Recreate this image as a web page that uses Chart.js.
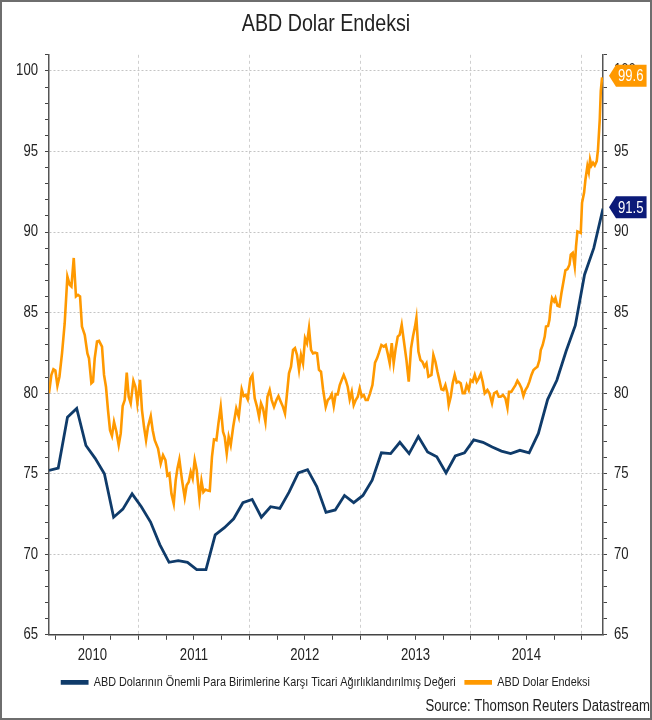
<!DOCTYPE html>
<html><head><meta charset="utf-8">
<script src="https://cdn.jsdelivr.net/npm/chart.js@4.4.1/dist/chart.umd.min.js"></script>
<style>
html,body{margin:0;padding:0;background:#fff;}
#frame{width:652px;height:720px;box-sizing:border-box;border:2px solid #6e6e6e;position:relative;background:#fff;}
canvas{display:block;}
</style></head><body>
<div id="frame"><canvas id="c" width="648" height="716"></canvas></div>
<script>
const FONT = "'Liberation Sans','Arial',sans-serif";
const NARROW = 0.82;   // horizontal squeeze to mimic Arial Narrow
const titleText = 'ABD Dolar Endeksi';
const sourceText = 'Source: Thomson Reuters Datastream';
const seriesNames = ['ABD Dolarının Önemli Para Birimlerine Karşı Ticari Ağırlıklandırılmış Değeri', 'ABD Dolar Endeksi'];
const yearLabels = ['2010', '2011', '2012', '2013', '2014'];
const yearLabelMonths = [7, 18, 30, 42, 54];   // months since Jan 2010 where year labels sit

// Trade-weighted USD (monthly)
const blueDates = ['2010-03','2010-04','2010-05','2010-06','2010-07','2010-08','2010-09','2010-10','2010-11','2010-12',
  '2011-01','2011-02','2011-03','2011-04','2011-05','2011-06','2011-07','2011-08','2011-09','2011-10','2011-11','2011-12',
  '2012-01','2012-02','2012-03','2012-04','2012-05','2012-06','2012-07','2012-08','2012-09','2012-10','2012-11','2012-12',
  '2013-01','2013-02','2013-03','2013-04','2013-05','2013-06','2013-07','2013-08','2013-09','2013-10','2013-11','2013-12',
  '2014-01','2014-02','2014-03','2014-04','2014-05','2014-06','2014-07','2014-08','2014-09','2014-10','2014-11','2014-12',
  '2015-01','2015-02','2015-03'];
const blueValues = [75.2, 75.35, 78.5, 79.05, 76.75, 75.95, 75.0, 72.3, 72.8, 73.75,
  72.95, 72.0, 70.6, 69.5, 69.6, 69.5, 69.05, 69.05, 71.2, 71.65, 72.2, 73.2,
  73.4, 72.3, 72.95, 72.85, 73.85, 75.05, 75.25, 74.2, 72.6, 72.75, 73.65, 73.2,
  73.65, 74.6, 76.3, 76.25, 76.95, 76.25, 77.3, 76.35, 76.05, 75.05, 76.1, 76.3,
  77.1, 76.95, 76.65, 76.4, 76.25, 76.45, 76.3, 77.5, 79.6, 80.8, 82.6, 84.2,
  87.35, 89.0, 91.45];

// US Dollar Index (weekly) : months since Jan 2010, value
const orangeMonths = [2.30,2.56,2.78,2.99,3.21,3.43,3.71,4.00,4.29,4.54,4.73,4.98,5.22,5.44,5.66,5.87,6.17,6.46,6.63,6.89,
  7.07,7.25,7.50,7.72,8.04,8.26,8.47,8.69,8.91,9.12,9.34,9.60,9.85,10.07,10.28,10.50,10.72,10.93,11.15,11.44,
  11.66,11.87,12.16,12.37,12.59,12.81,13.02,13.32,13.53,13.75,14.11,14.40,14.65,14.91,15.12,15.34,15.56,15.81,16.02,16.21,
  16.42,16.71,17.00,17.21,17.43,17.65,17.86,18.08,18.30,18.59,18.81,19.02,19.24,19.49,19.71,19.95,20.17,20.43,20.65,20.90,
  21.15,21.33,21.55,21.76,21.98,22.25,22.58,22.85,23.17,23.39,23.60,23.82,24.11,24.33,24.58,24.83,25.05,25.26,25.48,25.74,
  25.96,26.20,26.42,26.67,26.93,27.15,27.40,27.64,27.86,28.08,28.29,28.51,28.73,28.94,29.16,29.38,29.59,29.81,30.03,30.24,
  30.46,30.68,30.89,31.11,31.33,31.54,31.76,31.98,32.27,32.49,32.70,32.92,33.14,33.35,33.57,33.79,34.00,34.22,34.44,34.65,
  34.87,35.09,35.30,35.52,35.74,35.95,36.17,36.39,36.60,36.82,37.04,37.33,37.61,37.83,38.04,38.30,38.55,38.77,38.98,39.20,
  39.42,39.63,39.85,40.07,40.28,40.50,40.72,41.01,41.26,41.51,41.72,41.94,42.09,42.31,42.53,42.74,42.96,43.18,43.39,43.72,
  43.93,44.15,44.37,44.58,44.80,45.02,45.23,45.45,45.59,45.81,46.02,46.24,46.46,46.67,46.89,47.11,47.32,47.54,47.76,47.97,
  48.19,48.41,48.62,48.84,49.06,49.27,49.49,49.78,50.00,50.28,50.50,50.79,51.01,51.22,51.47,51.73,51.95,52.12,52.38,52.60,
  52.82,53.03,53.25,53.47,53.68,53.90,54.12,54.33,54.55,54.77,54.98,55.20,55.42,55.56,55.77,55.99,56.13,56.35,56.50,56.64,
  56.78,57.00,57.15,57.37,57.58,57.80,58.02,58.23,58.45,58.67,58.81,59.02,59.24,59.38,59.53,59.75,59.89,60.03,60.25,60.40,
  60.61,60.76,60.90,61.05,61.22,61.41,61.62,61.76,61.95,62.06,62.20];
const orangeValues = [80.0,81.13,81.48,81.40,80.46,81.02,82.47,84.34,87.24,86.73,86.62,88.39,86.0,86.1,86.0,84.13,83.62,82.47,82.16,80.61,
  80.71,82.16,83.2,83.24,82.89,81.13,80.4,78.95,77.7,77.35,78.22,77.6,76.77,77.5,79.2,79.57,81.27,79.78,79.37,80.77,
  80.4,79.37,80.82,78.95,77.91,77.08,77.91,78.57,77.7,77.08,76.56,75.63,76.15,75.84,74.9,75.01,73.76,73.14,74.59,75.32,
  75.88,74.59,73.52,74.28,74.49,75.11,74.7,75.84,75.22,73.45,74.55,73.86,74.01,73.95,73.93,76.04,77.13,77.08,78.12,79.15,
  77.6,77.29,76.25,77.29,76.77,77.91,79.05,78.53,80.24,79.82,79.88,79.61,80.92,81.13,79.68,79.15,78.53,79.37,79.05,78.22,
  79.78,80.19,79.57,79.15,79.57,79.82,79.47,79.15,78.74,79.99,81.23,81.64,82.68,82.79,82.37,81.44,82.37,81.85,83.41,83.1,
  84.03,82.68,82.47,82.51,82.47,81.44,81.33,80.24,79.15,79.57,79.68,79.94,79.2,79.94,79.93,80.5,80.81,81.13,80.81,80.4,
  79.61,80.09,79.26,79.57,79.78,80.3,79.78,79.88,79.57,79.57,79.94,80.5,81.89,82.16,82.51,82.99,82.89,82.99,82.47,81.85,
  83.1,81.85,82.79,83.51,83.62,84.24,83.3,82.06,80.71,82.79,83.51,84.13,84.66,82.58,82.06,81.95,81.64,81.85,81.02,81.13,
  82.37,81.95,81.33,80.81,80.24,80.19,80.5,79.99,79.26,79.78,80.61,81.13,80.65,80.71,80.61,79.99,79.99,80.5,80.19,80.81,
  80.71,81.13,80.71,80.92,81.19,80.71,79.99,80.19,79.99,79.37,79.99,80.09,79.78,79.78,79.88,79.68,79.09,80.09,80.09,80.3,
  80.5,80.77,80.57,80.3,79.82,80.19,80.4,80.71,81.13,81.44,81.54,81.64,82.06,82.68,82.99,83.51,84.13,84.17,84.55,85.38,
  85.9,85.69,85.9,85.42,85.38,86.21,86.93,87.62,87.7,87.97,88.59,88.7,87.87,89.11,90.04,89.98,89.94,91.81,92.43,93.26,
  94.09,93.72,94.5,94.13,94.3,94.13,94.4,95.13,96.99,98.76,99.6];

const blueColor = '#0f3b6a', orangeColor = '#ff9900';
const blueTagColor = '#0b1a78', orangeTagColor = '#ff9900';

const monthOf = s => (parseInt(s.slice(0, 4), 10) - 2010) * 12 + parseInt(s.slice(5, 7), 10) - 1 + 0.3;
const blueData = blueDates.map((d, i) => ({x: monthOf(d), y: blueValues[i]}));
const orangeData = orangeMonths.map((m, i) => ({x: m, y: orangeValues[i]}));

const xTicks = [];
for (let m = 3; m <= 60; m += 3) xTicks.push(m);
xTicks.push(yearLabelMonths[0]);
const yTicks = [];
for (let v = 65; v <= 101; v++) yTicks.push(v);

// Narrow text rendering (no condensed font installed): squeeze glyphs horizontally
const canvas = document.getElementById('c');
const ctx = canvas.getContext('2d');
const origFill = ctx.fillText.bind(ctx);
const origMeasure = ctx.measureText.bind(ctx);
ctx.fillText = function (t, x, y, maxW) {
  ctx.save();
  ctx.translate(x, y);
  ctx.scale(NARROW, 1);
  if (maxW !== undefined && maxW !== null) origFill(t, 0, 0, maxW / NARROW); else origFill(t, 0, 0);
  ctx.restore();
};
ctx.measureText = function (t) {
  const m = origMeasure(t);
  return {
    width: m.width * NARROW,
    actualBoundingBoxAscent: m.actualBoundingBoxAscent,
    actualBoundingBoxDescent: m.actualBoundingBoxDescent,
    actualBoundingBoxLeft: m.actualBoundingBoxLeft * NARROW,
    actualBoundingBoxRight: m.actualBoundingBoxRight * NARROW
  };
};

const tagPlugin = {
  id: 'tags',
  afterDraw(chart) {
    const {ctx, chartArea} = chart;
    const ys = chart.scales.y;
    const tags = [
      {v: orangeValues[orangeValues.length - 1], c: orangeTagColor},
      {v: blueValues[blueValues.length - 1], c: blueTagColor}
    ];
    ctx.save();
    ctx.font = '16px ' + FONT;
    tags.forEach(t => {
      const label = t.v.toFixed(1);
      const w = ctx.measureText(label).width;
      const y = ys.getPixelForValue(t.v) - 1.5;
      const x0 = chartArea.right + 6, x1 = x0 + 9 + w + 3, h = 11;
      ctx.beginPath();
      ctx.moveTo(x0, y);
      ctx.lineTo(x0 + 7, y - h);
      ctx.lineTo(x1, y - h);
      ctx.lineTo(x1, y + h);
      ctx.lineTo(x0 + 7, y + h);
      ctx.closePath();
      ctx.fillStyle = t.c;
      ctx.fill();
      ctx.fillStyle = '#ffffff';
      ctx.textAlign = 'left';
      ctx.textBaseline = 'middle';
      ctx.fillText(label, x0 + 9, y + 1);
    });
    ctx.restore();
  }
};

const yAxis = (pos) => ({
  type: 'linear', position: pos, min: 65, max: 101,
  afterBuildTicks: s => { s.ticks = yTicks.map(v => ({value: v})); },
  afterFit: s => { s.width = 47; },
  ticks: {autoSkip: false, padding: 7, color: '#222', font: {family: FONT, size: 16},
    callback: v => (v % 5 === 0 ? String(v) : '')},
  grid: {
    drawOnChartArea: pos === 'left',
    color: c => (c.tick && c.tick.value % 5 === 0 && c.tick.value > 65) ? '#c4c4c4' : 'rgba(0,0,0,0)',
    lineWidth: 1, tickLength: 4, tickColor: '#444', tickWidth: 1, tickBorderDash: []
  },
  border: {color: '#555', width: 1.5, dash: [2, 2]}
});

new Chart(ctx, {
  type: 'line',
  data: {
    datasets: [
      {label: seriesNames[0], data: blueData, borderColor: blueColor, backgroundColor: blueColor,
       borderWidth: 2.8, pointRadius: 0, tension: 0},
      {label: seriesNames[1], data: orangeData, borderColor: orangeColor, backgroundColor: orangeColor,
       borderWidth: 2.6, pointRadius: 0, tension: 0}
    ]
  },
  options: {
    responsive: false, animation: false, devicePixelRatio: 1,
    layout: {padding: {left: 0, right: 0, top: 0, bottom: 0}},
    scales: {
      x: {
        type: 'linear', position: 'bottom', min: 2.3, max: 62.3,
        afterBuildTicks: s => { s.ticks = xTicks.map(v => ({value: v})); },
        afterFit: s => { s.height = 31; },
        ticks: {autoSkip: false, maxRotation: 0, padding: 6, color: '#222', font: {family: FONT, size: 16},
          callback: v => { const i = yearLabelMonths.indexOf(v); return i >= 0 ? yearLabels[i] : ''; }},
        grid: {
          color: c => (c.tick && c.tick.value % 12 === 0) ? '#cfcfcf' : 'rgba(0,0,0,0)',
          lineWidth: 1, tickLength: 5, tickWidth: 1, tickBorderDash: [],
          tickColor: c => (c.tick && c.tick.value === yearLabelMonths[0]) ? 'rgba(0,0,0,0)' : '#444'
        },
        border: {color: '#444', width: 1.5, dash: [3, 3]}
      },
      y: yAxis('left'),
      y2: yAxis('right')
    },
    plugins: {
      title: {display: true, text: titleText, color: '#222',
        font: {family: FONT, size: 24, weight: 'normal'}, padding: {top: 8, bottom: 16}},
      subtitle: {display: true, text: sourceText, position: 'bottom', align: 'end', color: '#222',
        font: {family: FONT, size: 16, weight: 'normal', lineHeight: 1}, padding: {top: 0, bottom: 3}},
      legend: {position: 'bottom',
        labels: {boxWidth: 25, boxHeight: 2, padding: 10, color: '#222', font: {family: FONT, size: 13.2}}},
      tooltip: {enabled: false}
    }
  },
  plugins: [tagPlugin]
});
</script>
</body></html>
